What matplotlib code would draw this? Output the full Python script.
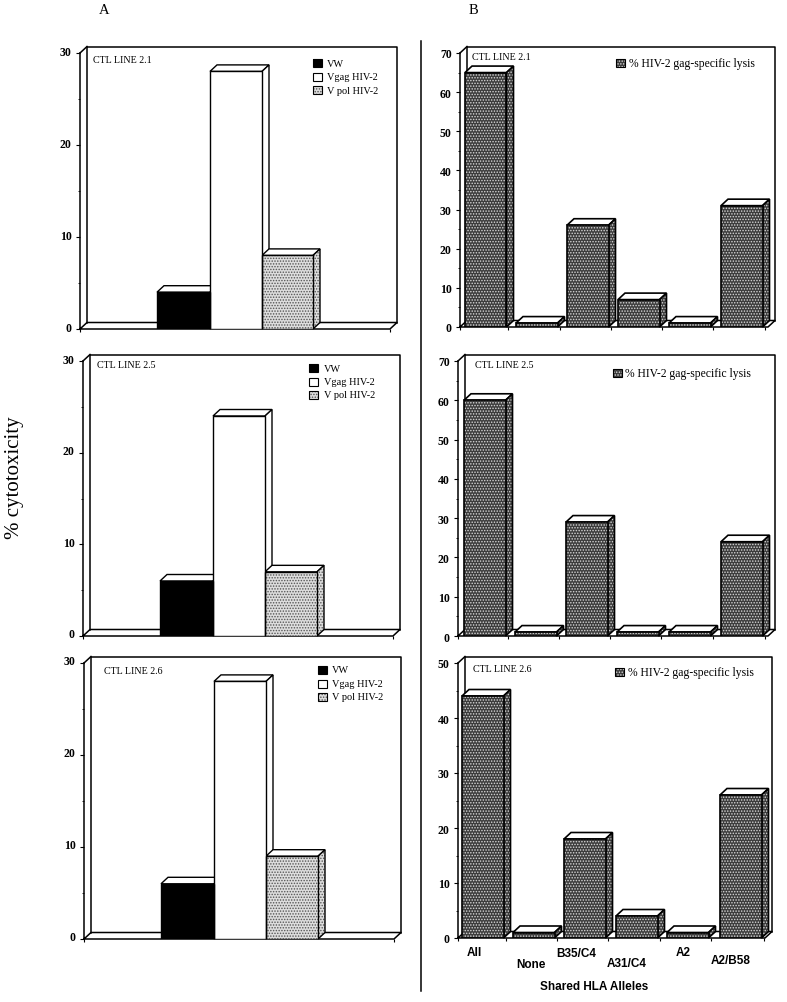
#!/usr/bin/env python3
"""Percent cytotoxicity of three CTL lines, with pseudo-3D bars."""

import matplotlib
matplotlib.use("Agg")
import matplotlib.pyplot as plt
from matplotlib.patches import Polygon
from matplotlib.transforms import ScaledTranslation

plt.rcParams["font.family"] = ["Liberation Serif", "DejaVu Serif"]
plt.rcParams["hatch.linewidth"] = 0.7

W, H = 787, 1003

line_names = ["CTL LINE 2.1", "CTL LINE 2.5", "CTL LINE 2.6"]
virus_labels = ["VW", "Vgag HIV-2", "V pol HIV-2"]
virus_values = [[4, 28, 8], [6, 24, 7], [6, 28, 9]]
virus_ticks = [0, 10, 20, 30]
virus_minor = [5, 15, 25]
allele_labels = ["All", "None", "B35/C4", "A31/C4", "A2", "A2/B58"]
allele_values = [
    [65, 1, 26, 7, 1, 31],
    [60, 1, 29, 1, 1, 24],
    [44, 1, 18, 4, 1, 26],
]
allele_ymax = [70, 70, 50]
allele_ticks = [[0, 10, 20, 30, 40, 50, 60, 70],
                [0, 10, 20, 30, 40, 50, 60, 70],
                [0, 10, 20, 30, 40, 50]]
allele_minor = [[5, 15, 25, 35, 45, 55, 65],
                [5, 15, 25, 35, 45, 55, 65],
                [5, 15, 25, 35, 45]]
legend_lysis = "% HIV-2 gag-specific lysis"

# layout in reference pixels: front-plane left, right, bottom, top
a_geom = [(80, 390, 330, 54), (83, 393, 637, 362), (84, 394, 940, 664)]
a_edges = [(157, 210, 262, 313), (160, 213, 265, 317), (161, 214, 266, 318)]
a_title = [(93, 60), (97, 365), (104, 672)]
a_legend = [(313, 64, 327), (309, 369, 324), (318, 671, 332)]
a_styles = [("black", None, None), ("white", None, None), ("#dddddd", "#555555", "......")]

b_geom = [(460, 768, 328, 54), (458, 768, 637, 362), (458, 765, 939, 664)]
b_left = [(465, 516, 567, 618, 669, 721), (464, 515, 566, 617, 669, 721), (462, 513, 564, 616, 667, 720)]
b_title = [(472, 58), (475, 365), (473, 669)]
b_legend = [(616, 64, 629), (613, 374, 625), (615, 673, 628)]
b_width = 41.5
dark = "#3c3c3c"
dots = "#d8d8d8"

label_x = [474, 531, 576, 627, 683, 731]
label_y = [953, 965, 954, 964, 953, 961]


def panel_axes(left, right, bottom, top, ymax):
    ax = fig.add_axes([left / W, 1 - bottom / H, (right - left) / W, (bottom - top) / H])
    ax.patch.set_visible(False)
    for spine in ax.spines.values():
        spine.set_visible(False)
    ax.set_xlim(left, right)
    ax.set_ylim(0, ymax)
    return ax


def draw_box(ax, ymax, ticks, minor, xticks, depth):
    dx, dy = depth
    x0, x1 = ax.get_xlim()
    style = dict(color="black", lw=1.1, clip_on=False, zorder=1)
    ax.plot([x0 + dx, x0 + dx, x1 + dx, x1 + dx], [dy, ymax + dy, ymax + dy, dy], **style)
    ax.plot([x0, x0, x1, x1 + dx, x0 + dx, x0], [ymax, 0, 0, dy, dy, 0], **style)
    ax.plot([x0, x0 + dx], [ymax, ymax + dy], **style)
    ax.set_xticks(xticks)
    ax.set_xticklabels([])
    ax.set_yticks(ticks)
    ax.set_yticks(minor, minor=True)
    ax.tick_params(axis="x", length=2.5, width=0.8)
    ax.tick_params(axis="y", length=3, width=0.8, pad=3, labelsize=8.5)
    ax.tick_params(axis="y", which="minor", length=1.5, width=0.6)
    for lab in ax.get_yticklabels():
        lab.set_fontweight("bold")


def draw_bar(ax, left, right, value, depth, face, hatch_color=None, hatch=None, lw=1.0):
    dx, dy = depth
    side_xy = [(right, 0), (right + dx, dy), (right + dx, value + dy), (right, value)]
    top_xy = [(left, value), (left + dx, value + dy), (right + dx, value + dy), (right, value)]
    ax.add_patch(Polygon(top_xy, closed=True, facecolor="white", edgecolor="black", lw=lw, zorder=3, clip_on=False))
    ax.add_patch(Polygon(side_xy, closed=True, facecolor=face, edgecolor=hatch_color or "black",
                         hatch=hatch, lw=0, zorder=3, clip_on=False))
    ax.add_patch(Polygon(side_xy, closed=True, fill=False, edgecolor="black", lw=lw, zorder=3, clip_on=False))
    ax.bar([(left + right) / 2], [value], width=right - left, color=face,
           edgecolor=hatch_color or face, hatch=hatch, lw=0, zorder=4)
    ax.bar([(left + right) / 2], [value], width=right - left, fill=False,
           edgecolor="black", lw=lw, zorder=5)


def draw_swatch(ax, x, yv, half, face, hatch_color=None, hatch=None):
    xy = [(x, yv - half), (x + 9, yv - half), (x + 9, yv + half), (x, yv + half)]
    ax.add_patch(Polygon(xy, closed=True, facecolor=face, edgecolor=hatch_color or "black",
                         hatch=hatch, lw=0, zorder=6))
    ax.add_patch(Polygon(xy, closed=True, fill=False, edgecolor="black", lw=0.8, zorder=6))


fig = plt.figure(figsize=(W / 100, H / 100), dpi=100)
raise_labels = ScaledTranslation(0, 3 / 100, fig.dpi_scale_trans)

for i, (l, r, b, t) in enumerate(a_geom):
    ax = panel_axes(l, r, b, t, 30)
    px = 30 / (b - t)
    depth = (7, 6.5 * px)
    draw_box(ax, 30, virus_ticks, virus_minor, [l, r], depth)
    # the value labels sit a little above their ticks in this column
    for lab in ax.get_yticklabels():
        lab.set_transform(lab.get_transform() + raise_labels)
    edges = a_edges[i]
    for j, val in enumerate(virus_values[i]):
        face, hc, ht = a_styles[j]
        draw_bar(ax, edges[j], edges[j + 1], val, depth, face, hc, ht)
    tx, ty = a_title[i]
    ax.text(tx, (b - ty) * px, line_names[i], fontsize=7.2, va="center", ha="left")
    sx, sy, text_x = a_legend[i]
    for j, label in enumerate(virus_labels):
        yv = (b - (sy + j * 13.5)) * px
        draw_swatch(ax, sx, yv, 4 * px, *a_styles[j])
        ax.text(text_x, yv, label, fontsize=7.4, va="center", ha="left")

for i, (l, r, b, t) in enumerate(b_geom):
    ymax = allele_ymax[i]
    ax = panel_axes(l, r, b, t, ymax)
    px = ymax / (b - t)
    depth = (7, 6.5 * px)
    lefts = b_left[i]
    draw_box(ax, ymax, allele_ticks[i], allele_minor[i],
             [l] + [x + b_width + 2 for x in lefts], depth)
    for j, val in enumerate(allele_values[i]):
        draw_bar(ax, lefts[j], lefts[j] + b_width, val, depth, dark, dots, "......", lw=1.2)
    tx, ty = b_title[i]
    ax.text(tx, (b - ty) * px, line_names[i], fontsize=7.2, va="center", ha="left")
    sx, sy, text_x = b_legend[i]
    yv = (b - sy) * px
    draw_swatch(ax, sx, yv, 4 * px, dark, dots, "......")
    ax.text(text_x, yv, legend_lysis, fontsize=8.4, va="center", ha="left")
    if i == 2:
        for name, xp, yp in zip(allele_labels, label_x, label_y):
            ax.text(xp, (b - yp) * px, name, fontsize=8.5, fontweight="bold", family="Liberation Sans",
                    ha="center", va="center", clip_on=False)
        ax.text(594, (b - 987) * px, "Shared HLA Alleles", fontsize=8.5, fontweight="bold",
                family="Liberation Sans", ha="center", va="center", clip_on=False)

fig.text(104 / W, 1 - 10 / H, "A", fontsize=10.5, ha="center", va="center")
fig.text(473 / W, 1 - 11 / H, "B", fontsize=10.5, ha="center", va="center")
fig.text(15 / W, 1 - 478 / H, "% cytotoxicity", fontsize=15, rotation=90, ha="center", va="center")
fig.add_artist(plt.Line2D([421 / W, 421 / W], [1 - 42 / H, 1 - 992 / H], color="black", lw=1.1))

fig.savefig("out.png", dpi=100)
